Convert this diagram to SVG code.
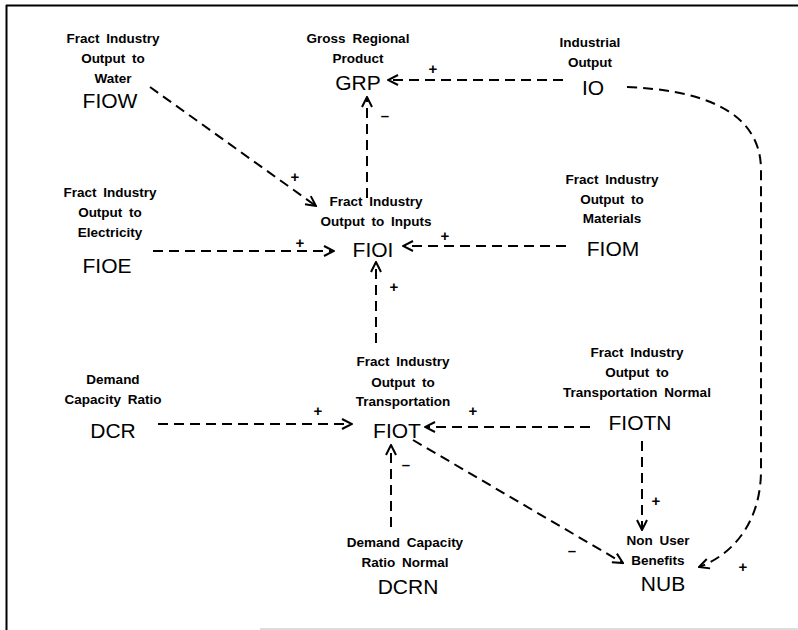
<svg xmlns="http://www.w3.org/2000/svg" width="798" height="630" viewBox="0 0 798 630">
  <style>
    .lbl { font-family: "Liberation Sans", Arial, sans-serif; font-size: 13.5px; font-weight: bold; word-spacing: 3px; text-anchor: middle; fill: #000; }
    .code { font-family: "Liberation Sans", Arial, sans-serif; font-size: 21px; text-anchor: middle; fill: #000; }
    .sign { font-family: "Liberation Sans", Arial, sans-serif; font-size: 15px; font-weight: bold; text-anchor: middle; fill: #000; }
    .link { fill: none; stroke: #000; stroke-width: 2; stroke-dasharray: 10 6; marker-end: url(#arrow); }
  </style>
  <defs>
    <marker id="arrow" viewBox="0 0 12 12" refX="11" refY="6" markerWidth="12" markerHeight="12" markerUnits="userSpaceOnUse" orient="auto">
      <path d="M1,1 L11,6 L1,11" fill="none" stroke="#000" stroke-width="2"/>
    </marker>
  </defs>
  <rect width="798" height="630" fill="#fff"/>
  <!-- frame -->
  <g id="frame" stroke="#000" stroke-width="2" fill="none">
    <line x1="6" y1="5.5" x2="798" y2="5.5"/>
    <line x1="6.5" y1="5" x2="6.5" y2="630"/>
    <line x1="260" y1="629" x2="798" y2="629" stroke="#bbb" stroke-width="1"/>
  </g>

  <!-- connectors -->
  <g id="connectors">
    <path class="link" d="M563,80 L388,80"/>
    <path class="link" d="M627,87 C700,90 761,110 761,170 L761,470 C761,525 730,556 699,567"/>
    <path class="link" d="M150,87 L316,206"/>
    <path class="link" d="M153,251 L334,251"/>
    <path class="link" d="M566,246 L403,246"/>
    <path class="link" d="M367,198 L367,97"/>
    <path class="link" d="M376,343 L376,262"/>
    <path class="link" d="M158,424 L352,424"/>
    <path class="link" d="M590,427 L425,427"/>
    <path class="link" d="M391,527 L391,445"/>
    <path class="link" d="M413,440 L623,563"/>
    <path class="link" d="M642,441 L642,530"/>
  </g>

  <!-- polarity signs -->
  <g id="signs">
    <text class="sign" x="433" y="74">+</text>
    <text class="sign" x="743" y="572">+</text>
    <text class="sign" x="295" y="182">+</text>
    <text class="sign" x="300" y="248">+</text>
    <text class="sign" x="445" y="241">+</text>
    <text class="sign" x="385" y="121">–</text>
    <text class="sign" x="394" y="292">+</text>
    <text class="sign" x="318" y="416">+</text>
    <text class="sign" x="473" y="416">+</text>
    <text class="sign" x="406" y="470">–</text>
    <text class="sign" x="572" y="556">–</text>
    <text class="sign" x="656" y="506">+</text>
  </g>

  <!-- nodes -->
  <g id="FIOW">
    <text class="lbl" x="113" y="43">Fract Industry</text>
    <text class="lbl" x="113" y="63">Output to</text>
    <text class="lbl" x="113" y="83">Water</text>
    <text class="code" x="110" y="108">FIOW</text>
  </g>
  <g id="GRP">
    <text class="lbl" x="358" y="43">Gross Regional</text>
    <text class="lbl" x="358" y="63">Product</text>
    <text class="code" x="358" y="90">GRP</text>
  </g>
  <g id="IO">
    <text class="lbl" x="590" y="47">Industrial</text>
    <text class="lbl" x="590" y="67">Output</text>
    <text class="code" x="593" y="95">IO</text>
  </g>
  <g id="FIOE">
    <text class="lbl" x="110" y="197">Fract Industry</text>
    <text class="lbl" x="110" y="217">Output to</text>
    <text class="lbl" x="110" y="237">Electricity</text>
    <text class="code" x="107" y="273">FIOE</text>
  </g>
  <g id="FIOI">
    <text class="lbl" x="376" y="206">Fract Industry</text>
    <text class="lbl" x="376" y="226">Output to Inputs</text>
    <text class="code" x="373" y="257">FIOI</text>
  </g>
  <g id="FIOM">
    <text class="lbl" x="612" y="184">Fract Industry</text>
    <text class="lbl" x="612" y="204">Output to</text>
    <text class="lbl" x="612" y="223">Materials</text>
    <text class="code" x="613" y="256">FIOM</text>
  </g>
  <g id="DCR">
    <text class="lbl" x="113" y="384">Demand</text>
    <text class="lbl" x="113" y="404">Capacity Ratio</text>
    <text class="code" x="113" y="438">DCR</text>
  </g>
  <g id="FIOT">
    <text class="lbl" x="403" y="366">Fract Industry</text>
    <text class="lbl" x="403" y="387">Output to</text>
    <text class="lbl" x="403" y="406">Transportation</text>
    <text class="code" x="397" y="438">FIOT</text>
  </g>
  <g id="FIOTN">
    <text class="lbl" x="637" y="357">Fract Industry</text>
    <text class="lbl" x="637" y="377">Output to</text>
    <text class="lbl" x="637" y="397">Transportation Normal</text>
    <text class="code" x="640" y="430">FIOTN</text>
  </g>
  <g id="DCRN">
    <text class="lbl" x="405" y="547">Demand Capacity</text>
    <text class="lbl" x="405" y="567">Ratio Normal</text>
    <text class="code" x="408" y="594">DCRN</text>
  </g>
  <g id="NUB">
    <text class="lbl" x="658" y="545">Non User</text>
    <text class="lbl" x="658" y="565">Benefits</text>
    <text class="code" x="663" y="591">NUB</text>
  </g>
</svg>
